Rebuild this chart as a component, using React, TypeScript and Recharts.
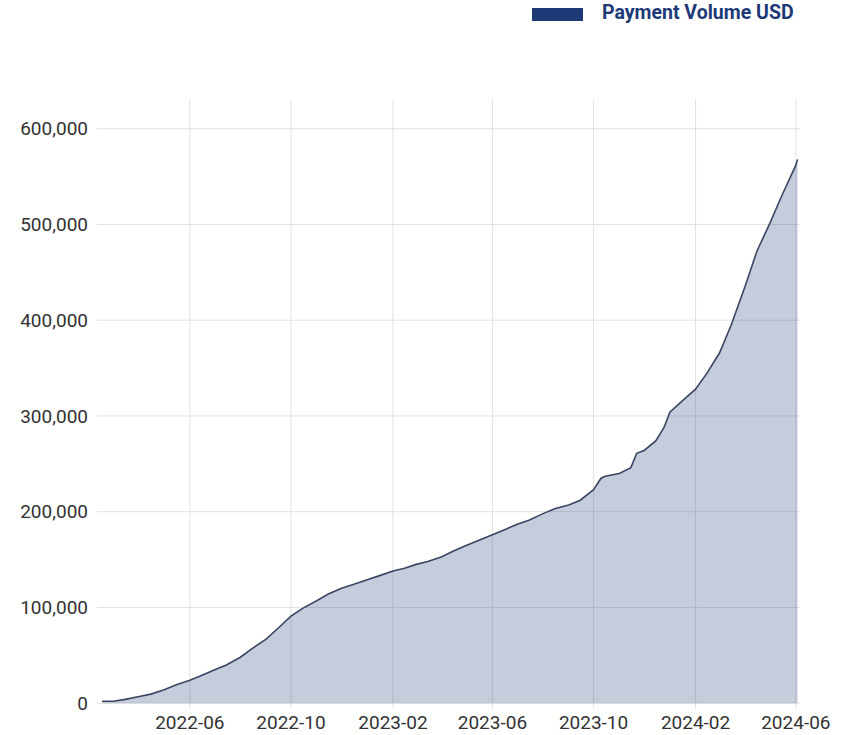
import { Area, AreaChart, CartesianGrid, Legend, XAxis, YAxis } from "recharts";

const dates = [
  "2022-02-15", "2022-03-01", "2022-03-15", "2022-04-01", "2022-04-15", "2022-05-01", "2022-05-15",
  "2022-06-01", "2022-06-15", "2022-07-01", "2022-07-15", "2022-08-01", "2022-08-15", "2022-09-01",
  "2022-09-15", "2022-10-01", "2022-10-15", "2022-11-01", "2022-11-15", "2022-12-01", "2022-12-15",
  "2023-01-01", "2023-01-15", "2023-02-01", "2023-02-15", "2023-03-01", "2023-03-15", "2023-04-01",
  "2023-04-15", "2023-05-01", "2023-05-15", "2023-06-01", "2023-06-15", "2023-07-01", "2023-07-15",
  "2023-08-01", "2023-08-15", "2023-09-01", "2023-09-15", "2023-10-01", "2023-10-10", "2023-10-15",
  "2023-11-01", "2023-11-15", "2023-11-22", "2023-12-01", "2023-12-15", "2023-12-25", "2024-01-01",
  "2024-01-15", "2024-02-01", "2024-02-15", "2024-03-01", "2024-03-15", "2024-04-01", "2024-04-15",
  "2024-05-01", "2024-05-15", "2024-06-01", "2024-06-03",
];

const volumes = [
  2000, 2000, 4000, 7000, 9500, 14000, 19000,
  24000, 29000, 35000, 40000, 48000, 57000, 67000,
  78000, 91000, 99000, 107000, 114000, 120000, 124000,
  129000, 133000, 138000, 141000, 145000, 148000, 153000,
  159000, 165000, 170000, 176000, 181000, 187000, 191000,
  198000, 203000, 207000, 212000, 223000, 235000, 237000,
  240000, 246000, 261000, 264000, 274000, 288000, 304000,
  315000, 328000, 345000, 366000, 395000, 436000, 472000,
  502000, 530000, 562000, 568000,
];

const xTickDates = ["2022-06-01", "2022-10-01", "2023-02-01", "2023-06-01", "2023-10-01", "2024-02-01", "2024-06-01"];
const yTicks = [0, 100000, 200000, 300000, 400000, 500000, 600000];
const seriesName = "Payment Volume USD";

const data = dates.map((d, i) => ({ t: Date.parse(d), v: volumes[i] }));
const xTicks = xTickDates.map((d) => Date.parse(d));

const fmtMonth = (t: number) => new Date(t).toISOString().slice(0, 7);
const fmtNum = (v: number) => v.toLocaleString("en-US");

const tickStyle = { fill: "#333", fontSize: 19, fontFamily: "Roboto, sans-serif" };

function LegendBox() {
  return (
    <div style={{ position: "relative", height: 30, width: 847 }}>
      <div style={{ position: "absolute", left: 532, top: 8, width: 51, height: 12.5, background: "#1d3a76" }} />
      <div
        style={{
          position: "absolute",
          left: 602,
          top: 1,
          fontFamily: "Roboto, sans-serif",
          fontWeight: 700,
          fontSize: 19.5,
          color: "#1d3a76",
          whiteSpace: "nowrap",
        }}
      >
        {seriesName}
      </div>
    </div>
  );
}

export default function App() {
  return (
    <div style={{ position: "absolute", left: 0, top: 0, background: "#fff" }}>
      <AreaChart width={847} height={735} data={data} margin={{ top: 100, right: 47, bottom: 0, left: 0 }}>
        <CartesianGrid stroke="#e2e2e2" horizontalValues={yTicks} verticalValues={xTicks} />
        <XAxis
          dataKey="t"
          type="number"
          scale="time"
          domain={[Date.parse("2022-02-09"), Date.parse("2024-06-06")]}
          ticks={xTicks}
          tickFormatter={fmtMonth}
          axisLine={false}
          tickLine={false}
          tickSize={0}
          tickMargin={8}
          height={27}
          tick={tickStyle}
        />
        <YAxis
          type="number"
          domain={[-5000, 630000]}
          ticks={yTicks}
          tickFormatter={fmtNum}
          axisLine={false}
          tickLine={false}
          tickSize={0}
          tickMargin={9}
          width={97}
          tick={tickStyle}
        />
        <Legend layout="vertical" align="center" verticalAlign="middle" wrapperStyle={{ top: 0, left: 0, width: 847, height: 30 }} content={() => <LegendBox />} />
        <Area
          type="linear"
          dataKey="v"
          name={seriesName}
          baseValue={0}
          stroke="#3a4562"
          strokeWidth={1.6}
          fill="#203a73"
          fillOpacity={0.26}
          isAnimationActive={false}
          dot={false}
          activeDot={false}
        />
      </AreaChart>
    </div>
  );
}
